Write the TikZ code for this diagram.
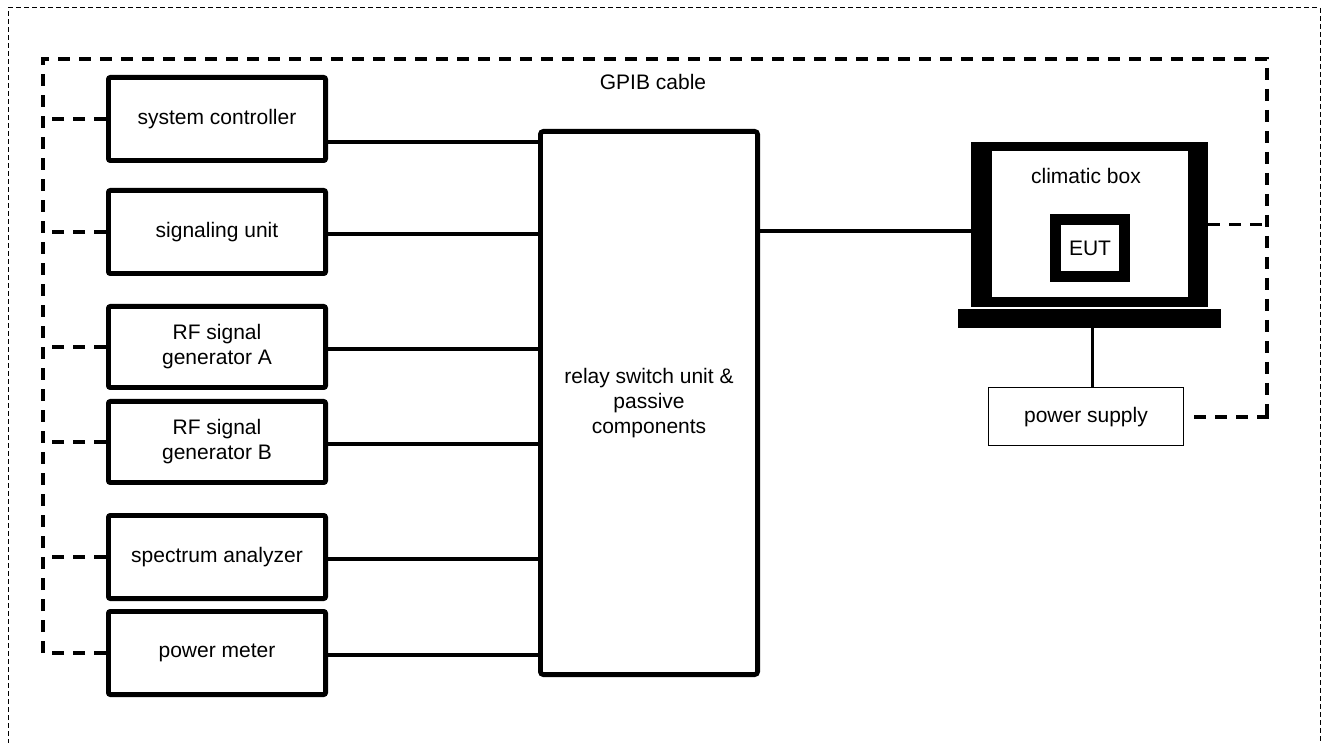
\documentclass[tikz,border=0pt]{standalone}
\usepackage{fontspec}
\setmainfont{Liberation Sans}
\usetikzlibrary{positioning}

\begin{document}
\begin{tikzpicture}[
    x=0.5pt, y=-0.5pt,
    font=\fontsize{10.5}{12.5}\selectfont,
    unit/.style={rectangle, draw, line width=2.4pt, rounded corners=1pt,
                 minimum width=108.6pt, minimum height=41.6pt, align=center},
    wire/.style={line width=1.9pt},
    gpib/.style={line width=1.8pt, dash pattern=on 6pt off 4.5pt},
    frame/.style={line width=0.5pt, dash pattern=on 2.5pt off 1.5pt}
]
  \clip (0,0) rectangle (1324,743);
  \draw[frame] (8,760) -- (8,8) -- (1320,8) -- (1320,760);

  % instruments on the left
  \node[unit] (sc) at (217,119) {system controller};
  \node[unit, below=12.5pt of sc] (su) {signaling unit};
  \node[unit, minimum height=40.6pt, below=14pt of su]  (rfa) {RF signal\\generator A};
  \node[unit, minimum height=40.6pt, below=4.5pt of rfa] (rfb) {RF signal\\generator B};
  \node[unit, below=14pt of rfb] (sa) {spectrum analyzer};
  \node[unit, below=4pt of sa]   (pm) {power meter};

  \node[unit, rounded corners=1.5pt, minimum height=271.6pt] (relay) at (649,403)
       {relay switch unit \&\\passive\\components};

  % climatic box with the EUT
  \node[fill=black, inner sep=0, minimum width=118.5pt, minimum height=82.5pt] (cbox) at (1089.5,224.5) {};
  \node[fill=white, inner sep=0, minimum width=98pt, minimum height=73pt] (cin) at (cbox) {};
  \node (cblbl) at (1086,176) {climatic box};
  \node[draw, line width=5.5pt, minimum width=34.5pt, minimum height=28.5pt] (eut) at (1090,248) {EUT};
  \node[fill=black, inner sep=0, minimum width=131.5pt, minimum height=9.5pt, below=0.5pt of cbox] (base) {};
  \node[draw, line width=0.6pt, minimum width=97.5pt, minimum height=29pt,
        below=29.5pt of base, xshift=-1.75pt] (psu) {power supply};

  % RF wiring
  \draw[wire] ([yshift=-11.5pt]sc.east) -- ([yshift=-11.5pt]relay.west |- sc.east);
  \foreach \n in {su,rfa,rfb,sa,pm}
    \draw[wire] ([yshift=-1pt]\n.east) -- ([yshift=-1pt]relay.west |- \n.east);
  \draw[wire] ([yshift=-3.25pt]cbox.west) -- ([yshift=-3.25pt]cbox.west -| relay.east);
  \draw[wire] ([xshift=1.5pt]base.south) -- ([xshift=1.5pt]base.south |- psu.north);

  % GPIB bus
  \coordinate (bustl) at (43,59);
  \coordinate (bustr) at (1267,59);
  \draw[gpib] (pm.west) -| (bustl) -- (bustr) -- ([yshift=-0.9pt]bustr |- psu.east);
  \foreach \n in {sc,su,rfa,rfb,sa}
    \draw[gpib] (\n.west) -- (\n.west -| bustl);
  \draw[gpib] (cbox.east) -- (cbox.east -| bustr);
  \draw[gpib] ([xshift=5pt]psu.east) -- ([xshift=0.9pt]psu.east -| bustr);
  \node (gpiblbl) at (653,82) {GPIB cable};
\end{tikzpicture}
\end{document}
